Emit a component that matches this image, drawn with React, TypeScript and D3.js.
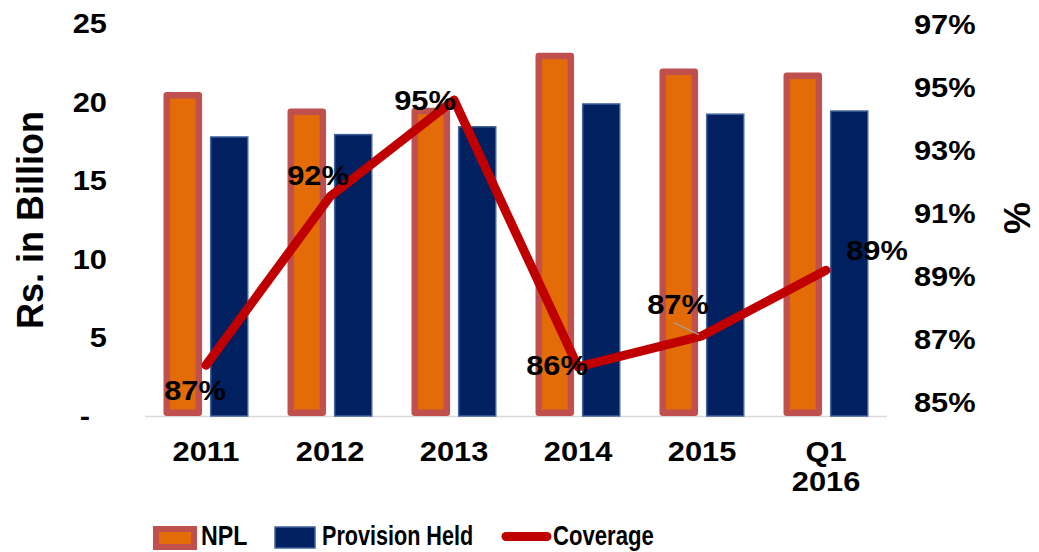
import React from "react";
import { scaleBand, scaleLinear, line } from "d3";

const categories = ["2011", "2012", "2013", "2014", "2015", "Q1 2016"];
const npl = [20.4, 19.35, 19.4, 22.9, 21.9, 21.65];
const provision = [17.75, 17.9, 18.4, 19.85, 19.2, 19.4];
const coverage = [86.55, 91.7, 94.65, 86.5, 87.45, 89.45];
const coverageLabels = ["87%", "92%", "95%", "86%", "87%", "89%"];
const leftTicks = [0, 5, 10, 15, 20, 25];
const leftTickLabels = ["-", "5", "10", "15", "20", "25"];
const rightTicks = [85, 87, 89, 91, 93, 95, 97];

// label nudges (px) so the % labels sit where the original put them
const labelOffsets = [
  [-11, 35],
  [-12, -12],
  [-29, 10],
  [-21, 8],
  [-24, -22],
  [51, -10],
];

const W = 1039;
const H = 552;
const FONT = "'Liberation Sans', Arial, sans-serif";

// text with a horizontal stretch, the source font renders a bit wider
const T = ({ x, y, sx = 1.1, size = 28, anchor = "start", children }: any) => (
  <text transform={`translate(${x},${y}) scale(${sx},1)`} textAnchor={anchor} fontSize={size}>
    {children}
  </text>
);

export default function App() {
  const x0 = scaleBand().domain(categories).range([144, 888]).padding(0);
  const x1 = scaleBand()
    .domain(["npl", "prov"])
    .range([0, x0.bandwidth()])
    .paddingInner(0.17)
    .paddingOuter(0.42);
  const yL = scaleLinear().domain([0, 25]).range([416, 23]);
  const yR = scaleLinear().domain([85, 97]).range([416, 23]);
  // right axis labels in the source are slightly compressed
  const yRLabel = scaleLinear().domain([85, 97]).range([402, 24]);

  const cx = (c: string) => (x0(c) as number) + x0.bandwidth() / 2;
  const pts: [number, number][] = categories.map((c, i) => [cx(c), yR(coverage[i])]);
  const path = line()(pts) as string;

  const sw = 6.5;
  const bw = x1.bandwidth();

  return (
    <svg
      width={W}
      height={H}
      style={{ position: "absolute", left: 0, top: 0, background: "#fff" }}
      fontFamily={FONT}
      fontWeight="bold"
    >
      {/* left axis labels */}
      {leftTicks.map((t, i) => (
        <T key={"l" + t} x={t === 0 ? 90 : 107} y={yL(t) + 10} anchor="end">
          {leftTickLabels[i]}
        </T>
      ))}
      <text transform={`translate(43,220) rotate(-90)`} textAnchor="middle" fontSize={36}>
        Rs. in Billion
      </text>

      {/* right axis labels */}
      {rightTicks.map((t) => (
        <T key={"r" + t} x={914} y={yRLabel(t) + 10}>
          {t}%
        </T>
      ))}
      <text transform={`translate(1004,218) rotate(90)`} textAnchor="middle" fontSize={36}>
        %
      </text>

      {/* baseline */}
      <line x1={145} x2={887} y1={416.5} y2={416.5} stroke="#D9D9D9" strokeWidth={1.5} />

      {/* bars */}
      {categories.map((c, i) => {
        const gx = x0(c) as number;
        const nx = gx + (x1("npl") as number);
        const px = gx + (x1("prov") as number);
        return (
          <g key={c}>
            <rect
              x={nx + sw / 2}
              y={yL(npl[i])}
              width={bw - sw}
              height={yL(0) - yL(npl[i]) - sw / 2}
              fill="#E36C09"
              stroke="#C0504D"
              strokeWidth={sw}
              strokeLinejoin="round"
            />
            <rect
              x={px + 0.75}
              y={yL(provision[i])}
              width={bw - 1.5}
              height={yL(0) - yL(provision[i])}
              fill="#002060"
              stroke="#41639A"
              strokeWidth={1.5}
            />
          </g>
        );
      })}

      {/* category labels */}
      {categories.map((c) =>
        c.split(" ").map((p, j) => (
          <T key={c + j} x={cx(c)} y={461 + j * 30} anchor="middle">
            {p}
          </T>
        ))
      )}

      {/* coverage line */}
      <path
        d={path}
        fill="none"
        stroke="#C00000"
        strokeWidth={9}
        strokeLinecap="round"
        strokeLinejoin="round"
      />

      {/* leader line for 2015 label */}
      <line
        x1={pts[4][0] - 28}
        y1={pts[4][1] - 13}
        x2={pts[4][0] - 3}
        y2={pts[4][1] - 1}
        stroke="#A6A6A6"
        strokeWidth={1.2}
      />

      {/* coverage labels */}
      {pts.map((p, i) => (
        <T
          key={"v" + i}
          x={p[0] + labelOffsets[i][0]}
          y={p[1] + labelOffsets[i][1]}
          anchor="middle"
        >
          {coverageLabels[i]}
        </T>
      ))}

      {/* legend */}
      <rect x={156} y={529} width={38} height={18} fill="#E36C09" stroke="#C0504D" strokeWidth={6} />
      <T x={201} y={545} sx={0.86} size={27}>
        NPL
      </T>
      <rect x={275} y={527} width={40} height={21} fill="#002060" stroke="#41639A" strokeWidth={1.5} />
      <T x={322} y={545} sx={0.8} size={27}>
        Provision Held
      </T>
      <line x1={506} x2={547} y1={536.5} y2={536.5} stroke="#C00000" strokeWidth={9} strokeLinecap="round" />
      <T x={553} y={545} sx={0.82} size={27}>
        Coverage
      </T>
    </svg>
  );
}
